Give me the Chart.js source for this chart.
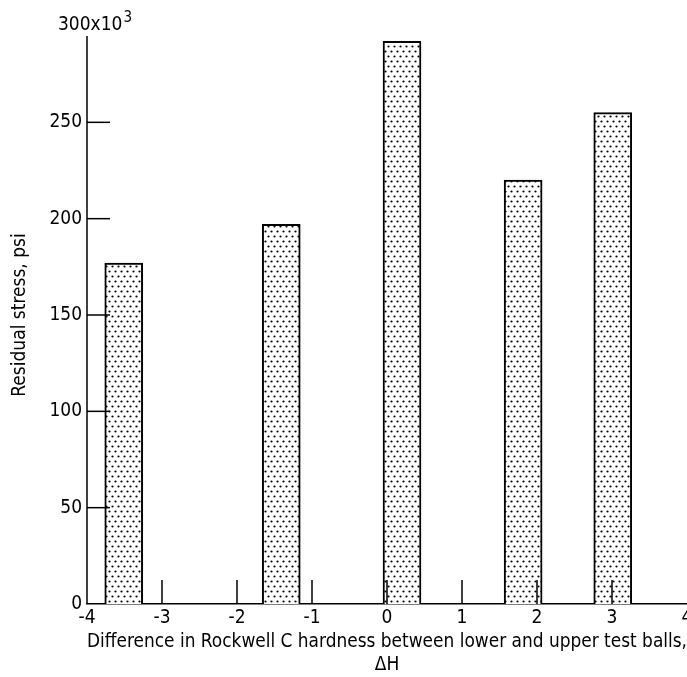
<!DOCTYPE html>
<html><head><meta charset="utf-8">
<script src="https://cdn.jsdelivr.net/npm/chart.js@4/dist/chart.umd.min.js"></script>
<style>html,body{margin:0;padding:0;background:#fff}#wrap{width:687px;height:677px}</style>
</head><body><div id="wrap"><canvas id="c" width="687" height="677"></canvas></div>
<script>
// ---- data ----
const hardnessDiff = [-3.51, -1.41, 0.20, 1.815, 3.01];
const residualStress = [177, 197, 292, 220, 255];
const xTickValues = [-4, -3, -2, -1, 0, 1, 2, 3, 4];
const yTickValues = [0, 50, 100, 150, 200, 250, 300];
const xTitle = ['Difference in Rockwell C hardness between lower and upper test balls,', '\u0394H'];
const yTitle = 'Residual stress, psi';
const yTopLabel = '300x10';
const yTopExp = '3';

const FONT = '"Liberation Sans Narrow", "DejaVu Sans Condensed", sans-serif';

// dotted fill pattern
const pc = document.createElement('canvas');
pc.width = 6; pc.height = 10;
const g = pc.getContext('2d');
g.fillStyle = '#fff'; g.fillRect(0, 0, 6, 10);
g.fillStyle = '#000';
g.beginPath(); g.arc(1.5, 1.5, 1.1, 0, Math.PI * 2); g.fill();
g.beginPath(); g.arc(4.5, 6.5, 1.1, 0, Math.PI * 2); g.fill();
const ctx = document.getElementById('c').getContext('2d');
const dots = ctx.createPattern(pc, 'repeat');

const tickMarks = {
  id: 'tickMarks',
  afterDatasetsDraw(chart) {
    const {ctx, scales: {x, y}, chartArea} = chart;
    ctx.save();
    ctx.strokeStyle = '#000';
    ctx.lineWidth = 1.5;
    // y axis line
    ctx.beginPath();
    ctx.moveTo(chartArea.left, chartArea.top + 10);
    ctx.lineTo(chartArea.left, chartArea.bottom);
    ctx.stroke();
    xTickValues.forEach(v => {
      if (v === x.min || v === x.max) return;
      const px = x.getPixelForValue(v);
      ctx.beginPath(); ctx.moveTo(px, chartArea.bottom); ctx.lineTo(px, chartArea.bottom - 24); ctx.stroke();
    });
    yTickValues.forEach(v => {
      if (v === y.min || v === y.max) return;
      const py = y.getPixelForValue(v);
      ctx.beginPath(); ctx.moveTo(chartArea.left, py); ctx.lineTo(chartArea.left + 23, py); ctx.stroke();
    });
    // top label 300x10^3
    ctx.fillStyle = '#000';
    ctx.textBaseline = 'middle';
    ctx.textAlign = 'left';
    ctx.font = '19px ' + FONT;
    const py = y.getPixelForValue(300);
    const lx = chartArea.left - 29;
    ctx.fillText(yTopLabel, lx, py - 1);
    const w = ctx.measureText(yTopLabel).width;
    ctx.font = '15px ' + FONT;
    ctx.fillText(yTopExp, lx + w + 1, py - 8);
    ctx.restore();
  }
};

new Chart(ctx, {
  type: 'bar',
  data: {
    datasets: [{
      data: hardnessDiff.map((d, i) => ({x: d, y: residualStress[i]})),
      backgroundColor: dots,
      borderColor: '#000',
      borderWidth: 2,
      borderSkipped: 'bottom',
      barThickness: 38
    }]
  },
  options: {
    responsive: false,
    animation: false,
    devicePixelRatio: 1,
    layout: {padding: {top: 26, right: 0, left: 0, bottom: 0}},
    plugins: {legend: {display: false}, tooltip: {enabled: false}},
    scales: {
      x: {
        type: 'linear', min: -4, max: 4, offset: false,
        grid: {display: false, drawTicks: false, offset: false},
        border: {display: true, color: '#000', width: 1.5},
        ticks: {stepSize: 1, color: '#000', font: {family: FONT, size: 19}, padding: 3, maxRotation: 0, autoSkip: false},
        title: {display: true, text: xTitle, color: '#000', font: {family: FONT, size: 19, lineHeight: 1.2}, padding: {top: 0, bottom: 1}},
        afterFit(s) { s.height = 73; s.paddingLeft = 0; s.paddingRight = 0; }
      },
      y: {
        min: 0, max: 300,
        grid: {display: false, drawTicks: false},
        border: {display: false},
        ticks: {stepSize: 50, color: '#000', font: {family: FONT, size: 19}, padding: 5,
          callback: v => (v === 300 ? '' : String(v))},
        title: {display: true, text: yTitle, color: '#000', font: {family: FONT, size: 19}, padding: {top: 9, bottom: 0}},
        afterFit(s) { s.width = 87; s.paddingTop = 0; s.paddingBottom = 0; }
      }
    }
  },
  plugins: [tickMarks]
});
</script>
</body></html>
